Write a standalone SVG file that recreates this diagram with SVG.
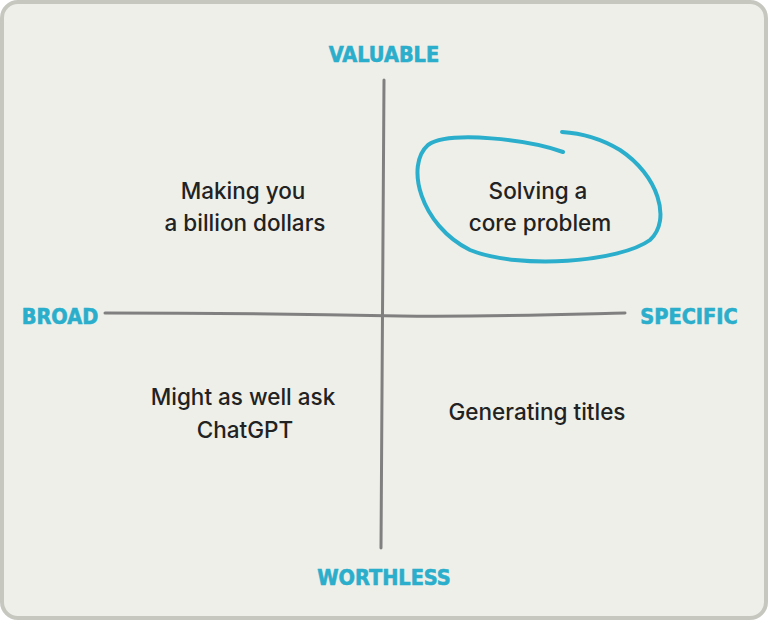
<svg xmlns="http://www.w3.org/2000/svg" width="768" height="620" viewBox="0 0 768 620">
<style>
.lbl{font-family:"DejaVu Sans Condensed","DejaVu Sans",sans-serif;font-weight:bold;font-size:21.5px;fill:#2aaecb;stroke:#2aaecb;stroke-width:0.6;text-anchor:middle;font-stretch:condensed}
.txt{font-family:Inter,"Noto Sans",sans-serif;font-size:22.5px;font-weight:500;fill:#222;text-anchor:middle}
.axis{fill:none;stroke:#808080;stroke-width:3;stroke-linecap:round}
</style>
<rect x="2" y="2" width="764" height="616" rx="16" fill="#eeefe9" stroke="#c6c8c0" stroke-width="4"/>
<g id="connectors">
<path class="axis" d="M384,80 C384,250 382,420 381,548"/>
<path class="axis" d="M105,313 C250,313 350,315 400,316 C500,317 580,314 625,313"/>
</g>
<g id="highlight">
<path d="M563,152 C530,140 450,130 428,145 C405,165 420,225 470,250 C520,270 620,262 650,240 C672,220 658,175 620,150 C600,138 580,133 562,132" fill="none" stroke="#2aaecb" stroke-width="4" stroke-linecap="round"/>
</g>
<g id="valuable"><text class="lbl" x="384" y="62">VALUABLE</text></g>
<g id="worthless"><text class="lbl" x="384" y="585">WORTHLESS</text></g>
<g id="broad"><text class="lbl" x="60" y="324">BROAD</text></g>
<g id="specific"><text class="lbl" x="689" y="324">SPECIFIC</text></g>
<g id="q1"><text class="txt" x="243" y="199">Making you</text><text class="txt" x="245" y="231">a billion dollars</text></g>
<g id="q2"><text class="txt" x="538" y="199">Solving a</text><text class="txt" x="540" y="231">core problem</text></g>
<g id="q3"><text class="txt" x="243" y="405">Might as well ask</text><text class="txt" x="245" y="438">ChatGPT</text></g>
<g id="q4"><text class="txt" x="537" y="420">Generating titles</text></g>
</svg>
